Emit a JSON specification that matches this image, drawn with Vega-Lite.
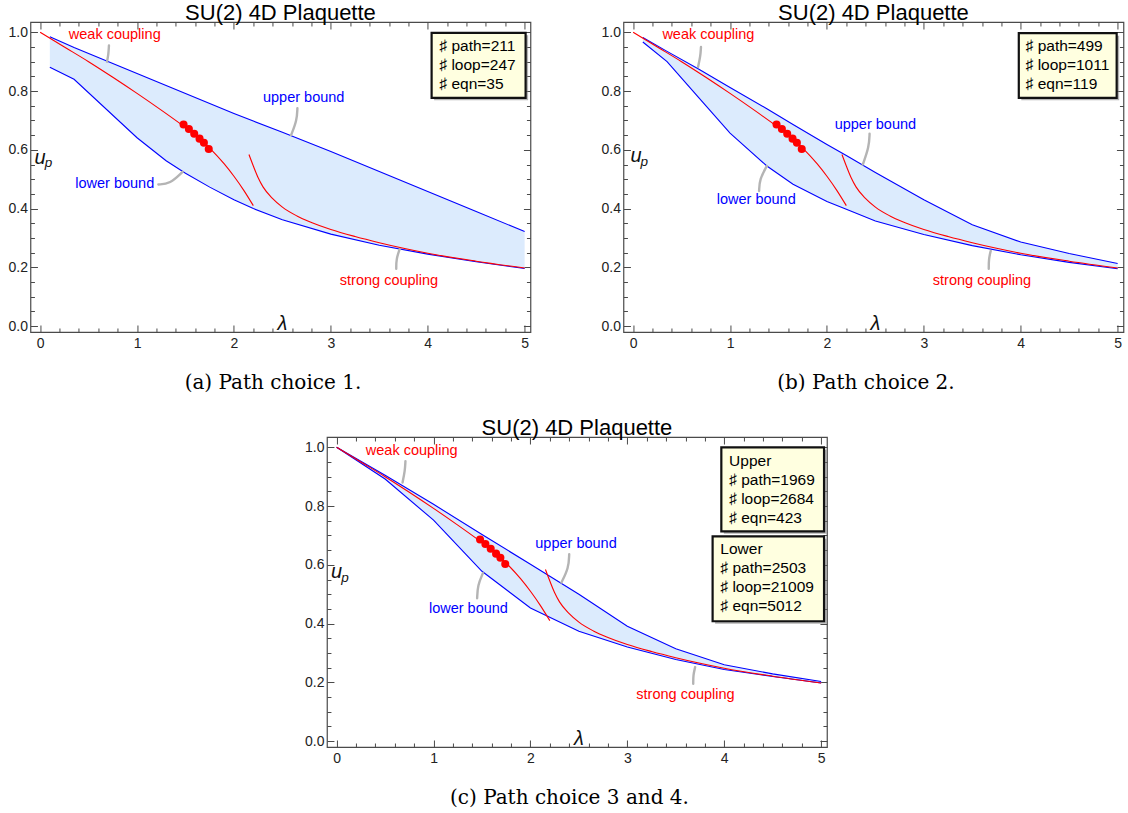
{
  "$schema": "https://vega.github.io/schema/vega-lite/v6.json",
  "padding": {"left": 7, "top": 0, "right": 0, "bottom": 0},
  "background": "white",
  "config": {
    "view": {"stroke": "#4a4a4a", "strokeWidth": 1.2},
    "axis": {"domain": false, "grid": false, "tickColor": "#4a4a4a", "tickWidth": 1, "labelFont": "Liberation Sans", "labelFontSize": 14, "labelColor": "#222222", "titleFont": "DejaVu Serif", "titleFontSize": 20, "titleFontWeight": "normal", "titleColor": "#000000", "labelFlush": false, "labelOverlap": false},
    "title": {"font": "Liberation Sans", "fontSize": 22, "fontWeight": "normal", "color": "#000000", "frame": "group", "anchor": "middle", "offset": -3}
  },
  "datasets": {
    "bounds": [
      {"p": "a", "lam": 0.1, "lo": 0.881, "up": 0.985},
      {"p": "a", "lam": 0.35, "lo": 0.840, "up": 0.948},
      {"p": "a", "lam": 1.0, "lo": 0.641, "up": 0.860},
      {"p": "a", "lam": 1.3, "lo": 0.563, "up": 0.819},
      {"p": "a", "lam": 1.5, "lo": 0.520, "up": 0.792},
      {"p": "a", "lam": 1.75, "lo": 0.473, "up": 0.758},
      {"p": "a", "lam": 2.0, "lo": 0.430, "up": 0.724},
      {"p": "a", "lam": 2.2, "lo": 0.400, "up": 0.698},
      {"p": "a", "lam": 2.5, "lo": 0.362, "up": 0.660},
      {"p": "a", "lam": 3.0, "lo": 0.313, "up": 0.594},
      {"p": "a", "lam": 3.5, "lo": 0.275, "up": 0.526},
      {"p": "a", "lam": 4.0, "lo": 0.245, "up": 0.458},
      {"p": "a", "lam": 4.5, "lo": 0.219, "up": 0.390},
      {"p": "a", "lam": 5.0, "lo": 0.196, "up": 0.322},
      {"p": "b", "lam": 0.1, "lo": 0.967, "up": 0.982},
      {"p": "b", "lam": 0.35, "lo": 0.900, "up": 0.935},
      {"p": "b", "lam": 0.67, "lo": 0.780, "up": 0.876},
      {"p": "b", "lam": 1.0, "lo": 0.657, "up": 0.812},
      {"p": "b", "lam": 1.38, "lo": 0.545, "up": 0.740},
      {"p": "b", "lam": 1.65, "lo": 0.483, "up": 0.686},
      {"p": "b", "lam": 2.0, "lo": 0.424, "up": 0.618},
      {"p": "b", "lam": 2.2, "lo": 0.398, "up": 0.581},
      {"p": "b", "lam": 2.5, "lo": 0.358, "up": 0.523},
      {"p": "b", "lam": 3.0, "lo": 0.312, "up": 0.430},
      {"p": "b", "lam": 3.5, "lo": 0.274, "up": 0.345},
      {"p": "b", "lam": 4.0, "lo": 0.243, "up": 0.286},
      {"p": "b", "lam": 4.5, "lo": 0.217, "up": 0.247},
      {"p": "b", "lam": 5.0, "lo": 0.195, "up": 0.213},
      {"p": "c", "lam": 0.0, "lo": 1.0, "up": 1.0},
      {"p": "c", "lam": 0.5, "lo": 0.892, "up": 0.905},
      {"p": "c", "lam": 1.0, "lo": 0.752, "up": 0.806},
      {"p": "c", "lam": 1.5, "lo": 0.578, "up": 0.703},
      {"p": "c", "lam": 2.0, "lo": 0.453, "up": 0.602},
      {"p": "c", "lam": 2.5, "lo": 0.374, "up": 0.500},
      {"p": "c", "lam": 3.0, "lo": 0.320, "up": 0.391},
      {"p": "c", "lam": 3.5, "lo": 0.278, "up": 0.314},
      {"p": "c", "lam": 4.0, "lo": 0.244, "up": 0.260},
      {"p": "c", "lam": 4.5, "lo": 0.220, "up": 0.229},
      {"p": "c", "lam": 5.0, "lo": 0.198, "up": 0.203}
    ],
    "weak": [
      {"lam": 0.0, "u": 1.0}, {"lam": 0.25, "u": 0.95}, {"lam": 0.5, "u": 0.9}, {"lam": 0.75, "u": 0.847},
      {"lam": 1.0, "u": 0.792}, {"lam": 1.25, "u": 0.735}, {"lam": 1.5, "u": 0.676}, {"lam": 1.6, "u": 0.652},
      {"lam": 1.75, "u": 0.606}, {"lam": 1.9, "u": 0.552}, {"lam": 2.0, "u": 0.51}, {"lam": 2.1, "u": 0.463}, {"lam": 2.2, "u": 0.41}
    ],
    "strong": [
      {"lam": 2.155, "u": 0.584}, {"lam": 2.2, "u": 0.545}, {"lam": 2.25, "u": 0.505}, {"lam": 2.3, "u": 0.474},
      {"lam": 2.4, "u": 0.434}, {"lam": 2.5, "u": 0.405}, {"lam": 2.65, "u": 0.375}, {"lam": 2.8, "u": 0.353},
      {"lam": 3.0, "u": 0.329}, {"lam": 3.25, "u": 0.305}, {"lam": 3.5, "u": 0.284}, {"lam": 3.75, "u": 0.265},
      {"lam": 4.0, "u": 0.248}, {"lam": 4.5, "u": 0.221}, {"lam": 5.0, "u": 0.198}
    ],
    "dots": [
      {"lam": 1.48, "u": 0.686}, {"lam": 1.535, "u": 0.671}, {"lam": 1.59, "u": 0.655},
      {"lam": 1.645, "u": 0.638}, {"lam": 1.69, "u": 0.624}, {"lam": 1.74, "u": 0.603}
    ],
    "callouts": [
      {"p": "a", "id": "w", "k": 0, "lam": 0.71, "u": 0.955}, {"p": "a", "id": "w", "k": 1, "lam": 0.705, "u": 0.925}, {"p": "a", "id": "w", "k": 2, "lam": 0.69, "u": 0.9},
      {"p": "a", "id": "ub", "k": 0, "lam": 2.655, "u": 0.742}, {"p": "a", "id": "ub", "k": 1, "lam": 2.65, "u": 0.70}, {"p": "a", "id": "ub", "k": 2, "lam": 2.59, "u": 0.65},
      {"p": "a", "id": "lb", "k": 0, "lam": 1.22, "u": 0.482}, {"p": "a", "id": "lb", "k": 1, "lam": 1.34, "u": 0.484}, {"p": "a", "id": "lb", "k": 2, "lam": 1.47, "u": 0.525},
      {"p": "a", "id": "s", "k": 0, "lam": 3.675, "u": 0.195}, {"p": "a", "id": "s", "k": 1, "lam": 3.675, "u": 0.228}, {"p": "a", "id": "s", "k": 2, "lam": 3.71, "u": 0.262},
      {"p": "b", "id": "w", "k": 0, "lam": 0.70, "u": 0.95}, {"p": "b", "id": "w", "k": 1, "lam": 0.695, "u": 0.92}, {"p": "b", "id": "w", "k": 2, "lam": 0.67, "u": 0.882},
      {"p": "b", "id": "ub", "k": 0, "lam": 2.44, "u": 0.655}, {"p": "b", "id": "ub", "k": 1, "lam": 2.435, "u": 0.61}, {"p": "b", "id": "ub", "k": 2, "lam": 2.37, "u": 0.55},
      {"p": "b", "id": "lb", "k": 0, "lam": 1.30, "u": 0.46}, {"p": "b", "id": "lb", "k": 1, "lam": 1.305, "u": 0.50}, {"p": "b", "id": "lb", "k": 2, "lam": 1.38, "u": 0.545},
      {"p": "b", "id": "s", "k": 0, "lam": 3.67, "u": 0.195}, {"p": "b", "id": "s", "k": 1, "lam": 3.67, "u": 0.228}, {"p": "b", "id": "s", "k": 2, "lam": 3.69, "u": 0.256},
      {"p": "c", "id": "w", "k": 0, "lam": 0.71, "u": 0.953}, {"p": "c", "id": "w", "k": 1, "lam": 0.705, "u": 0.92}, {"p": "c", "id": "w", "k": 2, "lam": 0.68, "u": 0.88},
      {"p": "c", "id": "ub", "k": 0, "lam": 2.40, "u": 0.636}, {"p": "c", "id": "ub", "k": 1, "lam": 2.395, "u": 0.59}, {"p": "c", "id": "ub", "k": 2, "lam": 2.32, "u": 0.54},
      {"p": "c", "id": "lb", "k": 0, "lam": 1.45, "u": 0.486}, {"p": "c", "id": "lb", "k": 1, "lam": 1.455, "u": 0.53}, {"p": "c", "id": "lb", "k": 2, "lam": 1.51, "u": 0.572},
      {"p": "c", "id": "s", "k": 0, "lam": 3.68, "u": 0.195}, {"p": "c", "id": "s", "k": 1, "lam": 3.68, "u": 0.225}, {"p": "c", "id": "s", "k": 2, "lam": 3.70, "u": 0.252}
    ],
    "labels": [
      {"p": "a", "t": "weak coupling", "k": "c", "lam": 0.77, "u": 0.99},
      {"p": "a", "t": "upper bound", "k": "b", "lam": 2.72, "u": 0.777},
      {"p": "a", "t": "lower bound", "k": "b", "lam": 0.77, "u": 0.482},
      {"p": "a", "t": "strong coupling", "k": "c", "lam": 3.6, "u": 0.153},
      {"p": "b", "t": "weak coupling", "k": "c", "lam": 0.776, "u": 0.991},
      {"p": "b", "t": "upper bound", "k": "b", "lam": 2.5, "u": 0.684},
      {"p": "b", "t": "lower bound", "k": "b", "lam": 1.27, "u": 0.429},
      {"p": "b", "t": "strong coupling", "k": "c", "lam": 3.6, "u": 0.155},
      {"p": "c", "t": "weak coupling", "k": "c", "lam": 0.775, "u": 0.989},
      {"p": "c", "t": "upper bound", "k": "b", "lam": 2.47, "u": 0.67},
      {"p": "c", "t": "lower bound", "k": "b", "lam": 1.36, "u": 0.45},
      {"p": "c", "t": "strong coupling", "k": "c", "lam": 3.6, "u": 0.156}
    ],
    "boxes": [
      {"p": "a", "x1": 4.04, "x2": 5.01, "y1": 0.998, "y2": 0.777},
      {"p": "b", "x1": 3.98, "x2": 4.99, "y1": 0.997, "y2": 0.777},
      {"p": "c", "x1": 3.97, "x2": 5.03, "y1": 1.0, "y2": 0.714},
      {"p": "c", "x1": 3.88, "x2": 5.03, "y1": 0.697, "y2": 0.408}
    ],
    "boxtext": [
      {"p": "a", "t": "♯ path=211", "lam": 4.12, "u": 0.953},
      {"p": "a", "t": "♯ loop=247", "lam": 4.12, "u": 0.888},
      {"p": "a", "t": "♯ eqn=35", "lam": 4.12, "u": 0.823},
      {"p": "b", "t": "♯ path=499", "lam": 4.05, "u": 0.953},
      {"p": "b", "t": "♯ loop=1011", "lam": 4.05, "u": 0.888},
      {"p": "b", "t": "♯ eqn=119", "lam": 4.05, "u": 0.823},
      {"p": "c", "t": "Upper", "lam": 4.05, "u": 0.955},
      {"p": "c", "t": "♯ path=1969", "lam": 4.05, "u": 0.89},
      {"p": "c", "t": "♯ loop=2684", "lam": 4.05, "u": 0.825},
      {"p": "c", "t": "♯ eqn=423", "lam": 4.05, "u": 0.76},
      {"p": "c", "t": "Lower", "lam": 3.96, "u": 0.653},
      {"p": "c", "t": "♯ path=2503", "lam": 3.96, "u": 0.588},
      {"p": "c", "t": "♯ loop=21009", "lam": 3.96, "u": 0.523},
      {"p": "c", "t": "♯ eqn=5012", "lam": 3.96, "u": 0.46}
    ],
    "axlab": [
      {"p": "a", "t": "λ", "lam": 2.5, "u": 0.008},
      {"p": "a", "t": "u", "lam": 0.0, "u": 0.572},
      {"p": "b", "t": "λ", "lam": 2.5, "u": 0.008},
      {"p": "b", "t": "u", "lam": 0.03, "u": 0.578},
      {"p": "c", "t": "λ", "lam": 2.5, "u": 0.008},
      {"p": "c", "t": "u", "lam": 0.0, "u": 0.574}
    ],
    "axsub": [
      {"p": "a", "t": "p", "lam": 0.085, "u": 0.554},
      {"p": "b", "t": "p", "lam": 0.115, "u": 0.560},
      {"p": "c", "t": "p", "lam": 0.085, "u": 0.556}
    ]
  },
  "vconcat": [
    {
      "hconcat": [
        {
          "width": 500, "height": 310,
          "title": {"text": "SU(2) 4D Plaquette"},
          "resolve": {"axis": {"x": "independent", "y": "independent"}},
          "layer": [
            {"data": {"name": "bounds"}, "transform": [{"filter": "datum.p==='a'"}],
             "mark": {"type": "area", "orient": "vertical", "color": "#dcebfd"},
             "encoding": {
               "x": {"field": "lam", "type": "quantitative", "scale": {"domain": [-0.1, 5.06], "nice": false, "zero": false},
                     "axis": {"orient": "bottom", "values": [0, 1, 2, 3, 4, 5], "tickSize": -7, "labelPadding": 11, "title": "(a) Path choice 1.", "titleX": 242, "titleY": 50, "titleBaseline": "middle"}},
               "y": {"field": "lo", "type": "quantitative", "scale": {"domain": [-0.02, 1.035], "nice": false, "zero": false},
                     "axis": {"orient": "left", "values": [0, 0.2, 0.4, 0.6, 0.8, 1], "format": ".1f", "tickSize": -7, "labelPadding": 10, "title": null}},
               "y2": {"field": "up"}}},
            {"data": {"name": "bounds"}, "transform": [{"filter": "datum.p==='a'"}],
             "mark": {"type": "line", "color": "#0000ff", "strokeWidth": 1.1},
             "encoding": {
               "x": {"field": "lam", "type": "quantitative", "scale": {"domain": [-0.1, 5.06], "nice": false, "zero": false},
                     "axis": {"orient": "bottom", "values": [0.2, 0.4, 0.6, 0.8, 1.2, 1.4, 1.6, 1.8, 2.2, 2.4, 2.6, 2.8, 3.2, 3.4, 3.6, 3.8, 4.2, 4.4, 4.6, 4.8], "tickSize": -4, "labels": false, "title": null}},
               "y": {"field": "lo", "type": "quantitative", "scale": {"domain": [-0.02, 1.035], "nice": false, "zero": false},
                     "axis": {"orient": "left", "values": [0.05, 0.1, 0.15, 0.25, 0.3, 0.35, 0.45, 0.5, 0.55, 0.65, 0.7, 0.75, 0.85, 0.9, 0.95], "tickSize": -4, "labels": false, "title": null}}}},
            {"data": {"name": "bounds"}, "transform": [{"filter": "datum.p==='a'"}],
             "mark": {"type": "line", "color": "#0000ff", "strokeWidth": 1.1},
             "encoding": {
               "x": {"field": "lam", "type": "quantitative", "scale": {"domain": [-0.1, 5.06], "nice": false, "zero": false},
                     "axis": {"orient": "top", "values": [0, 1, 2, 3, 4, 5], "tickSize": -7, "labels": false, "title": null}},
               "y": {"field": "up", "type": "quantitative", "scale": {"domain": [-0.02, 1.035], "nice": false, "zero": false},
                     "axis": {"orient": "right", "values": [0, 0.2, 0.4, 0.6, 0.8, 1], "tickSize": -7, "labels": false, "title": null}}}},
            {"data": {"name": "weak"},
             "mark": {"type": "line", "color": "#ff0000", "strokeWidth": 1.1, "interpolate": "monotone"},
             "encoding": {
               "x": {"field": "lam", "type": "quantitative", "scale": {"domain": [-0.1, 5.06], "nice": false, "zero": false},
                     "axis": {"orient": "top", "values": [0.2, 0.4, 0.6, 0.8, 1.2, 1.4, 1.6, 1.8, 2.2, 2.4, 2.6, 2.8, 3.2, 3.4, 3.6, 3.8, 4.2, 4.4, 4.6, 4.8], "tickSize": -4, "labels": false, "title": null}},
               "y": {"field": "u", "type": "quantitative", "scale": {"domain": [-0.02, 1.035], "nice": false, "zero": false},
                     "axis": {"orient": "right", "values": [0.05, 0.1, 0.15, 0.25, 0.3, 0.35, 0.45, 0.5, 0.55, 0.65, 0.7, 0.75, 0.85, 0.9, 0.95], "tickSize": -4, "labels": false, "title": null}}}},
            {"data": {"name": "strong"},
             "mark": {"type": "line", "color": "#ff0000", "strokeWidth": 1.1, "interpolate": "monotone"},
             "encoding": {
               "x": {"field": "lam", "type": "quantitative", "scale": {"domain": [-0.1, 5.06], "nice": false, "zero": false}, "axis": null},
               "y": {"field": "u", "type": "quantitative", "scale": {"domain": [-0.02, 1.035], "nice": false, "zero": false}, "axis": null}}},
            {"data": {"name": "dots"},
             "mark": {"type": "circle", "color": "#ff0000", "size": 65, "opacity": 1},
             "encoding": {
               "x": {"field": "lam", "type": "quantitative", "scale": {"domain": [-0.1, 5.06], "nice": false, "zero": false}, "axis": null},
               "y": {"field": "u", "type": "quantitative", "scale": {"domain": [-0.02, 1.035], "nice": false, "zero": false}, "axis": null}}},
            {"data": {"name": "callouts"}, "transform": [{"filter": "datum.p==='a'"}],
             "mark": {"type": "line", "color": "#b4b4b4", "strokeWidth": 2.4, "interpolate": "basis", "strokeCap": "round"},
             "encoding": {
               "x": {"field": "lam", "type": "quantitative", "scale": {"domain": [-0.1, 5.06], "nice": false, "zero": false}, "axis": null},
               "y": {"field": "u", "type": "quantitative", "scale": {"domain": [-0.02, 1.035], "nice": false, "zero": false}, "axis": null},
               "detail": {"field": "id"}, "order": {"field": "k"}}},
            {"data": {"name": "labels"}, "transform": [{"filter": "datum.p==='a'"}],
             "mark": {"type": "text", "font": "Liberation Sans", "fontSize": 14.5, "align": "center", "baseline": "middle"},
             "encoding": {
               "x": {"field": "lam", "type": "quantitative", "scale": {"domain": [-0.1, 5.06], "nice": false, "zero": false}, "axis": null},
               "y": {"field": "u", "type": "quantitative", "scale": {"domain": [-0.02, 1.035], "nice": false, "zero": false}, "axis": null},
               "text": {"field": "t"},
               "color": {"field": "k", "type": "nominal", "scale": {"domain": ["c", "b"], "range": ["#ff0000", "#0000ff"]}, "legend": null}}},
            {"data": {"name": "boxes"}, "transform": [{"filter": "datum.p==='a'"}],
             "mark": {"type": "rect", "fill": "#777777", "opacity": 0.55, "xOffset": 2.5, "x2Offset": 2.5, "yOffset": 2.5, "y2Offset": 2.5},
             "encoding": {
               "x": {"field": "x1", "type": "quantitative", "scale": {"domain": [-0.1, 5.06], "nice": false, "zero": false}, "axis": null},
               "x2": {"field": "x2"},
               "y": {"field": "y1", "type": "quantitative", "scale": {"domain": [-0.02, 1.035], "nice": false, "zero": false}, "axis": null},
               "y2": {"field": "y2"}}},
            {"data": {"name": "boxes"}, "transform": [{"filter": "datum.p==='a'"}],
             "mark": {"type": "rect", "fill": "#ffffe0", "stroke": "#111111", "strokeWidth": 2.2},
             "encoding": {
               "x": {"field": "x1", "type": "quantitative", "scale": {"domain": [-0.1, 5.06], "nice": false, "zero": false}, "axis": null},
               "x2": {"field": "x2"},
               "y": {"field": "y1", "type": "quantitative", "scale": {"domain": [-0.02, 1.035], "nice": false, "zero": false}, "axis": null},
               "y2": {"field": "y2"}}},
            {"data": {"name": "boxtext"}, "transform": [{"filter": "datum.p==='a'"}],
             "mark": {"type": "text", "font": "Liberation Sans", "fontSize": 15.5, "align": "left", "baseline": "middle", "color": "#000000"},
             "encoding": {
               "x": {"field": "lam", "type": "quantitative", "scale": {"domain": [-0.1, 5.06], "nice": false, "zero": false}, "axis": null},
               "y": {"field": "u", "type": "quantitative", "scale": {"domain": [-0.02, 1.035], "nice": false, "zero": false}, "axis": null},
               "text": {"field": "t"}}},
            {"data": {"name": "axlab"}, "transform": [{"filter": "datum.p==='a'"}],
             "mark": {"type": "text", "font": "Liberation Sans", "fontSize": 20, "fontStyle": "italic", "align": "center", "baseline": "middle", "color": "#111111"},
             "encoding": {
               "x": {"field": "lam", "type": "quantitative", "scale": {"domain": [-0.1, 5.06], "nice": false, "zero": false}, "axis": null},
               "y": {"field": "u", "type": "quantitative", "scale": {"domain": [-0.02, 1.035], "nice": false, "zero": false}, "axis": null},
               "text": {"field": "t"}}},
            {"data": {"name": "axsub"}, "transform": [{"filter": "datum.p==='a'"}],
             "mark": {"type": "text", "font": "Liberation Sans", "fontSize": 13.5, "fontStyle": "italic", "align": "center", "baseline": "middle", "color": "#111111"},
             "encoding": {
               "x": {"field": "lam", "type": "quantitative", "scale": {"domain": [-0.1, 5.06], "nice": false, "zero": false}, "axis": null},
               "y": {"field": "u", "type": "quantitative", "scale": {"domain": [-0.02, 1.035], "nice": false, "zero": false}, "axis": null},
               "text": {"field": "t"}}}
          ]
        },
        {
          "width": 500, "height": 310,
          "title": {"text": "SU(2) 4D Plaquette"},
          "resolve": {"axis": {"x": "independent", "y": "independent"}},
          "layer": [
            {"data": {"name": "bounds"}, "transform": [{"filter": "datum.p==='b'"}],
             "mark": {"type": "area", "orient": "vertical", "color": "#dcebfd"},
             "encoding": {
               "x": {"field": "lam", "type": "quantitative", "scale": {"domain": [-0.1, 5.06], "nice": false, "zero": false},
                     "axis": {"orient": "bottom", "values": [0, 1, 2, 3, 4, 5], "tickSize": -7, "labelPadding": 11, "title": "(b) Path choice 2.", "titleX": 242, "titleY": 50, "titleBaseline": "middle"}},
               "y": {"field": "lo", "type": "quantitative", "scale": {"domain": [-0.02, 1.035], "nice": false, "zero": false},
                     "axis": {"orient": "left", "values": [0, 0.2, 0.4, 0.6, 0.8, 1], "format": ".1f", "tickSize": -7, "labelPadding": 10, "title": null}},
               "y2": {"field": "up"}}},
            {"data": {"name": "bounds"}, "transform": [{"filter": "datum.p==='b'"}],
             "mark": {"type": "line", "color": "#0000ff", "strokeWidth": 1.1},
             "encoding": {
               "x": {"field": "lam", "type": "quantitative", "scale": {"domain": [-0.1, 5.06], "nice": false, "zero": false},
                     "axis": {"orient": "bottom", "values": [0.2, 0.4, 0.6, 0.8, 1.2, 1.4, 1.6, 1.8, 2.2, 2.4, 2.6, 2.8, 3.2, 3.4, 3.6, 3.8, 4.2, 4.4, 4.6, 4.8], "tickSize": -4, "labels": false, "title": null}},
               "y": {"field": "lo", "type": "quantitative", "scale": {"domain": [-0.02, 1.035], "nice": false, "zero": false},
                     "axis": {"orient": "left", "values": [0.05, 0.1, 0.15, 0.25, 0.3, 0.35, 0.45, 0.5, 0.55, 0.65, 0.7, 0.75, 0.85, 0.9, 0.95], "tickSize": -4, "labels": false, "title": null}}}},
            {"data": {"name": "bounds"}, "transform": [{"filter": "datum.p==='b'"}],
             "mark": {"type": "line", "color": "#0000ff", "strokeWidth": 1.1},
             "encoding": {
               "x": {"field": "lam", "type": "quantitative", "scale": {"domain": [-0.1, 5.06], "nice": false, "zero": false},
                     "axis": {"orient": "top", "values": [0, 1, 2, 3, 4, 5], "tickSize": -7, "labels": false, "title": null}},
               "y": {"field": "up", "type": "quantitative", "scale": {"domain": [-0.02, 1.035], "nice": false, "zero": false},
                     "axis": {"orient": "right", "values": [0, 0.2, 0.4, 0.6, 0.8, 1], "tickSize": -7, "labels": false, "title": null}}}},
            {"data": {"name": "weak"},
             "mark": {"type": "line", "color": "#ff0000", "strokeWidth": 1.1, "interpolate": "monotone"},
             "encoding": {
               "x": {"field": "lam", "type": "quantitative", "scale": {"domain": [-0.1, 5.06], "nice": false, "zero": false},
                     "axis": {"orient": "top", "values": [0.2, 0.4, 0.6, 0.8, 1.2, 1.4, 1.6, 1.8, 2.2, 2.4, 2.6, 2.8, 3.2, 3.4, 3.6, 3.8, 4.2, 4.4, 4.6, 4.8], "tickSize": -4, "labels": false, "title": null}},
               "y": {"field": "u", "type": "quantitative", "scale": {"domain": [-0.02, 1.035], "nice": false, "zero": false},
                     "axis": {"orient": "right", "values": [0.05, 0.1, 0.15, 0.25, 0.3, 0.35, 0.45, 0.5, 0.55, 0.65, 0.7, 0.75, 0.85, 0.9, 0.95], "tickSize": -4, "labels": false, "title": null}}}},
            {"data": {"name": "strong"},
             "mark": {"type": "line", "color": "#ff0000", "strokeWidth": 1.1, "interpolate": "monotone"},
             "encoding": {
               "x": {"field": "lam", "type": "quantitative", "scale": {"domain": [-0.1, 5.06], "nice": false, "zero": false}, "axis": null},
               "y": {"field": "u", "type": "quantitative", "scale": {"domain": [-0.02, 1.035], "nice": false, "zero": false}, "axis": null}}},
            {"data": {"name": "dots"},
             "mark": {"type": "circle", "color": "#ff0000", "size": 65, "opacity": 1},
             "encoding": {
               "x": {"field": "lam", "type": "quantitative", "scale": {"domain": [-0.1, 5.06], "nice": false, "zero": false}, "axis": null},
               "y": {"field": "u", "type": "quantitative", "scale": {"domain": [-0.02, 1.035], "nice": false, "zero": false}, "axis": null}}},
            {"data": {"name": "callouts"}, "transform": [{"filter": "datum.p==='b'"}],
             "mark": {"type": "line", "color": "#b4b4b4", "strokeWidth": 2.4, "interpolate": "basis", "strokeCap": "round"},
             "encoding": {
               "x": {"field": "lam", "type": "quantitative", "scale": {"domain": [-0.1, 5.06], "nice": false, "zero": false}, "axis": null},
               "y": {"field": "u", "type": "quantitative", "scale": {"domain": [-0.02, 1.035], "nice": false, "zero": false}, "axis": null},
               "detail": {"field": "id"}, "order": {"field": "k"}}},
            {"data": {"name": "labels"}, "transform": [{"filter": "datum.p==='b'"}],
             "mark": {"type": "text", "font": "Liberation Sans", "fontSize": 14.5, "align": "center", "baseline": "middle"},
             "encoding": {
               "x": {"field": "lam", "type": "quantitative", "scale": {"domain": [-0.1, 5.06], "nice": false, "zero": false}, "axis": null},
               "y": {"field": "u", "type": "quantitative", "scale": {"domain": [-0.02, 1.035], "nice": false, "zero": false}, "axis": null},
               "text": {"field": "t"},
               "color": {"field": "k", "type": "nominal", "scale": {"domain": ["c", "b"], "range": ["#ff0000", "#0000ff"]}, "legend": null}}},
            {"data": {"name": "boxes"}, "transform": [{"filter": "datum.p==='b'"}],
             "mark": {"type": "rect", "fill": "#777777", "opacity": 0.55, "xOffset": 2.5, "x2Offset": 2.5, "yOffset": 2.5, "y2Offset": 2.5},
             "encoding": {
               "x": {"field": "x1", "type": "quantitative", "scale": {"domain": [-0.1, 5.06], "nice": false, "zero": false}, "axis": null},
               "x2": {"field": "x2"},
               "y": {"field": "y1", "type": "quantitative", "scale": {"domain": [-0.02, 1.035], "nice": false, "zero": false}, "axis": null},
               "y2": {"field": "y2"}}},
            {"data": {"name": "boxes"}, "transform": [{"filter": "datum.p==='b'"}],
             "mark": {"type": "rect", "fill": "#ffffe0", "stroke": "#111111", "strokeWidth": 2.2},
             "encoding": {
               "x": {"field": "x1", "type": "quantitative", "scale": {"domain": [-0.1, 5.06], "nice": false, "zero": false}, "axis": null},
               "x2": {"field": "x2"},
               "y": {"field": "y1", "type": "quantitative", "scale": {"domain": [-0.02, 1.035], "nice": false, "zero": false}, "axis": null},
               "y2": {"field": "y2"}}},
            {"data": {"name": "boxtext"}, "transform": [{"filter": "datum.p==='b'"}],
             "mark": {"type": "text", "font": "Liberation Sans", "fontSize": 15.5, "align": "left", "baseline": "middle", "color": "#000000"},
             "encoding": {
               "x": {"field": "lam", "type": "quantitative", "scale": {"domain": [-0.1, 5.06], "nice": false, "zero": false}, "axis": null},
               "y": {"field": "u", "type": "quantitative", "scale": {"domain": [-0.02, 1.035], "nice": false, "zero": false}, "axis": null},
               "text": {"field": "t"}}},
            {"data": {"name": "axlab"}, "transform": [{"filter": "datum.p==='b'"}],
             "mark": {"type": "text", "font": "Liberation Sans", "fontSize": 20, "fontStyle": "italic", "align": "center", "baseline": "middle", "color": "#111111"},
             "encoding": {
               "x": {"field": "lam", "type": "quantitative", "scale": {"domain": [-0.1, 5.06], "nice": false, "zero": false}, "axis": null},
               "y": {"field": "u", "type": "quantitative", "scale": {"domain": [-0.02, 1.035], "nice": false, "zero": false}, "axis": null},
               "text": {"field": "t"}}},
            {"data": {"name": "axsub"}, "transform": [{"filter": "datum.p==='b'"}],
             "mark": {"type": "text", "font": "Liberation Sans", "fontSize": 13.5, "fontStyle": "italic", "align": "center", "baseline": "middle", "color": "#111111"},
             "encoding": {
               "x": {"field": "lam", "type": "quantitative", "scale": {"domain": [-0.1, 5.06], "nice": false, "zero": false}, "axis": null},
               "y": {"field": "u", "type": "quantitative", "scale": {"domain": [-0.02, 1.035], "nice": false, "zero": false}, "axis": null},
               "text": {"field": "t"}}}
          ]
        }
      ],
      "spacing": 67
    },
    {
      "width": 500, "height": 310,
      "title": {"text": "SU(2) 4D Plaquette"},
      "resolve": {"axis": {"x": "independent", "y": "independent"}},
      "layer": [
        {"data": {"name": "bounds"}, "transform": [{"filter": "datum.p==='c'"}],
         "mark": {"type": "area", "orient": "vertical", "color": "#dcebfd"},
         "encoding": {
           "x": {"field": "lam", "type": "quantitative", "scale": {"domain": [-0.1, 5.06], "nice": false, "zero": false},
                 "axis": {"orient": "bottom", "values": [0, 1, 2, 3, 4, 5], "tickSize": -7, "labelPadding": 11, "title": "(c) Path choice 3 and 4.", "titleX": 242, "titleY": 50, "titleBaseline": "middle"}},
           "y": {"field": "lo", "type": "quantitative", "scale": {"domain": [-0.02, 1.035], "nice": false, "zero": false},
                 "axis": {"orient": "left", "values": [0, 0.2, 0.4, 0.6, 0.8, 1], "format": ".1f", "tickSize": -7, "labelPadding": 10, "title": null}},
           "y2": {"field": "up"}}},
        {"data": {"name": "bounds"}, "transform": [{"filter": "datum.p==='c'"}],
         "mark": {"type": "line", "color": "#0000ff", "strokeWidth": 1.1},
         "encoding": {
           "x": {"field": "lam", "type": "quantitative", "scale": {"domain": [-0.1, 5.06], "nice": false, "zero": false},
                 "axis": {"orient": "bottom", "values": [0.2, 0.4, 0.6, 0.8, 1.2, 1.4, 1.6, 1.8, 2.2, 2.4, 2.6, 2.8, 3.2, 3.4, 3.6, 3.8, 4.2, 4.4, 4.6, 4.8], "tickSize": -4, "labels": false, "title": null}},
           "y": {"field": "lo", "type": "quantitative", "scale": {"domain": [-0.02, 1.035], "nice": false, "zero": false},
                 "axis": {"orient": "left", "values": [0.05, 0.1, 0.15, 0.25, 0.3, 0.35, 0.45, 0.5, 0.55, 0.65, 0.7, 0.75, 0.85, 0.9, 0.95], "tickSize": -4, "labels": false, "title": null}}}},
        {"data": {"name": "bounds"}, "transform": [{"filter": "datum.p==='c'"}],
         "mark": {"type": "line", "color": "#0000ff", "strokeWidth": 1.1},
         "encoding": {
           "x": {"field": "lam", "type": "quantitative", "scale": {"domain": [-0.1, 5.06], "nice": false, "zero": false},
                 "axis": {"orient": "top", "values": [0, 1, 2, 3, 4, 5], "tickSize": -7, "labels": false, "title": null}},
           "y": {"field": "up", "type": "quantitative", "scale": {"domain": [-0.02, 1.035], "nice": false, "zero": false},
                 "axis": {"orient": "right", "values": [0, 0.2, 0.4, 0.6, 0.8, 1], "tickSize": -7, "labels": false, "title": null}}}},
        {"data": {"name": "weak"},
         "mark": {"type": "line", "color": "#ff0000", "strokeWidth": 1.1, "interpolate": "monotone"},
         "encoding": {
           "x": {"field": "lam", "type": "quantitative", "scale": {"domain": [-0.1, 5.06], "nice": false, "zero": false},
                 "axis": {"orient": "top", "values": [0.2, 0.4, 0.6, 0.8, 1.2, 1.4, 1.6, 1.8, 2.2, 2.4, 2.6, 2.8, 3.2, 3.4, 3.6, 3.8, 4.2, 4.4, 4.6, 4.8], "tickSize": -4, "labels": false, "title": null}},
           "y": {"field": "u", "type": "quantitative", "scale": {"domain": [-0.02, 1.035], "nice": false, "zero": false},
                 "axis": {"orient": "right", "values": [0.05, 0.1, 0.15, 0.25, 0.3, 0.35, 0.45, 0.5, 0.55, 0.65, 0.7, 0.75, 0.85, 0.9, 0.95], "tickSize": -4, "labels": false, "title": null}}}},
        {"data": {"name": "strong"},
         "mark": {"type": "line", "color": "#ff0000", "strokeWidth": 1.1, "interpolate": "monotone"},
         "encoding": {
           "x": {"field": "lam", "type": "quantitative", "scale": {"domain": [-0.1, 5.06], "nice": false, "zero": false}, "axis": null},
           "y": {"field": "u", "type": "quantitative", "scale": {"domain": [-0.02, 1.035], "nice": false, "zero": false}, "axis": null}}},
        {"data": {"name": "dots"},
         "mark": {"type": "circle", "color": "#ff0000", "size": 65, "opacity": 1},
         "encoding": {
           "x": {"field": "lam", "type": "quantitative", "scale": {"domain": [-0.1, 5.06], "nice": false, "zero": false}, "axis": null},
           "y": {"field": "u", "type": "quantitative", "scale": {"domain": [-0.02, 1.035], "nice": false, "zero": false}, "axis": null}}},
        {"data": {"name": "callouts"}, "transform": [{"filter": "datum.p==='c'"}],
         "mark": {"type": "line", "color": "#b4b4b4", "strokeWidth": 2.4, "interpolate": "basis", "strokeCap": "round"},
         "encoding": {
           "x": {"field": "lam", "type": "quantitative", "scale": {"domain": [-0.1, 5.06], "nice": false, "zero": false}, "axis": null},
           "y": {"field": "u", "type": "quantitative", "scale": {"domain": [-0.02, 1.035], "nice": false, "zero": false}, "axis": null},
           "detail": {"field": "id"}, "order": {"field": "k"}}},
        {"data": {"name": "labels"}, "transform": [{"filter": "datum.p==='c'"}],
         "mark": {"type": "text", "font": "Liberation Sans", "fontSize": 14.5, "align": "center", "baseline": "middle"},
         "encoding": {
           "x": {"field": "lam", "type": "quantitative", "scale": {"domain": [-0.1, 5.06], "nice": false, "zero": false}, "axis": null},
           "y": {"field": "u", "type": "quantitative", "scale": {"domain": [-0.02, 1.035], "nice": false, "zero": false}, "axis": null},
           "text": {"field": "t"},
           "color": {"field": "k", "type": "nominal", "scale": {"domain": ["c", "b"], "range": ["#ff0000", "#0000ff"]}, "legend": null}}},
        {"data": {"name": "boxes"}, "transform": [{"filter": "datum.p==='c'"}],
         "mark": {"type": "rect", "fill": "#777777", "opacity": 0.55, "xOffset": 2.5, "x2Offset": 2.5, "yOffset": 2.5, "y2Offset": 2.5},
         "encoding": {
           "x": {"field": "x1", "type": "quantitative", "scale": {"domain": [-0.1, 5.06], "nice": false, "zero": false}, "axis": null},
           "x2": {"field": "x2"},
           "y": {"field": "y1", "type": "quantitative", "scale": {"domain": [-0.02, 1.035], "nice": false, "zero": false}, "axis": null},
           "y2": {"field": "y2"}}},
        {"data": {"name": "boxes"}, "transform": [{"filter": "datum.p==='c'"}],
         "mark": {"type": "rect", "fill": "#ffffe0", "stroke": "#111111", "strokeWidth": 2.2},
         "encoding": {
           "x": {"field": "x1", "type": "quantitative", "scale": {"domain": [-0.1, 5.06], "nice": false, "zero": false}, "axis": null},
           "x2": {"field": "x2"},
           "y": {"field": "y1", "type": "quantitative", "scale": {"domain": [-0.02, 1.035], "nice": false, "zero": false}, "axis": null},
           "y2": {"field": "y2"}}},
        {"data": {"name": "boxtext"}, "transform": [{"filter": "datum.p==='c'"}],
         "mark": {"type": "text", "font": "Liberation Sans", "fontSize": 15.5, "align": "left", "baseline": "middle", "color": "#000000"},
         "encoding": {
           "x": {"field": "lam", "type": "quantitative", "scale": {"domain": [-0.1, 5.06], "nice": false, "zero": false}, "axis": null},
           "y": {"field": "u", "type": "quantitative", "scale": {"domain": [-0.02, 1.035], "nice": false, "zero": false}, "axis": null},
           "text": {"field": "t"}}},
        {"data": {"name": "axlab"}, "transform": [{"filter": "datum.p==='c'"}],
         "mark": {"type": "text", "font": "Liberation Sans", "fontSize": 20, "fontStyle": "italic", "align": "center", "baseline": "middle", "color": "#111111"},
         "encoding": {
           "x": {"field": "lam", "type": "quantitative", "scale": {"domain": [-0.1, 5.06], "nice": false, "zero": false}, "axis": null},
           "y": {"field": "u", "type": "quantitative", "scale": {"domain": [-0.02, 1.035], "nice": false, "zero": false}, "axis": null},
           "text": {"field": "t"}}},
        {"data": {"name": "axsub"}, "transform": [{"filter": "datum.p==='c'"}],
         "mark": {"type": "text", "font": "Liberation Sans", "fontSize": 13.5, "fontStyle": "italic", "align": "center", "baseline": "middle", "color": "#111111"},
         "encoding": {
           "x": {"field": "lam", "type": "quantitative", "scale": {"domain": [-0.1, 5.06], "nice": false, "zero": false}, "axis": null},
           "y": {"field": "u", "type": "quantitative", "scale": {"domain": [-0.02, 1.035], "nice": false, "zero": false}, "axis": null},
           "text": {"field": "t"}}}
      ]
    }
  ],
  "spacing": 22,
  "center": true
}
